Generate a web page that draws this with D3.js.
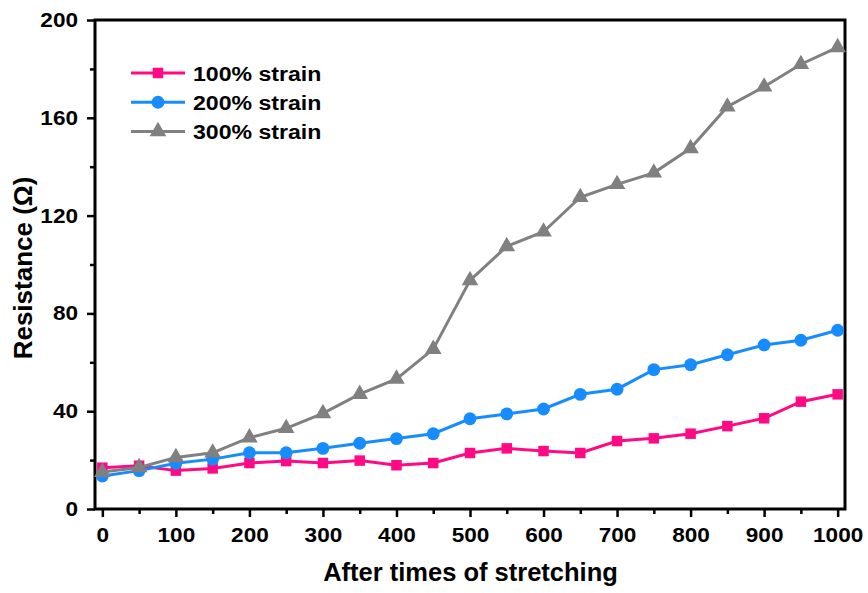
<!DOCTYPE html>
<html>
<head>
<meta charset="utf-8">
<script src="https://cdn.jsdelivr.net/npm/d3@7"></script>
<style>
  body { margin: 0; background: #fff; }
  svg { display: block; font-family: "Liberation Sans", Arial, sans-serif; font-weight: bold; }
</style>
</head>
<body>
<svg id="chart" width="868" height="593"></svg>
<script>
// stretching cycles
const cycles = [0, 50, 100, 150, 200, 250, 300, 350, 400, 450, 500,
                550, 600, 650, 700, 750, 800, 850, 900, 950, 1000];

// resistance values (ohm)
const strain100 = [16.9, 17.7, 15.7, 16.6, 18.8, 19.6, 18.8, 19.8, 17.9, 18.8, 22.9,
                   24.8, 23.7, 22.9, 27.8, 28.9, 30.8, 33.9, 37.1, 43.9, 46.9];
const strain200 = [13.5, 15.7, 18.7, 20.4, 23.0, 23.0, 24.8, 26.9, 28.8, 30.8, 36.9,
                   38.9, 40.9, 46.9, 49.0, 57.0, 59.0, 63.1, 67.1, 69.0, 73.1];
const strain300 = [15.1, 17.0, 21.1, 23.0, 29.2, 33.0, 39.1, 47.0, 53.2, 65.4, 93.5,
                   107.4, 113.4, 127.5, 132.8, 137.5, 147.5, 164.5, 172.7, 181.9, 188.8];

const xTicks = [0, 100, 200, 300, 400, 500, 600, 700, 800, 900, 1000];
const yTicks = [0, 40, 80, 120, 160, 200];

const seriesNames = ["100% strain", "200% strain", "300% strain"];
const seriesColors = ["#ff0a84", "#178cff", "#808080"];
const seriesShapes = [d3.symbolSquare, d3.symbolCircle, d3.symbolTriangle];
const seriesSizes = [110, 130, 120];

const series = [strain100, strain200, strain300].map((vals, i) => ({
  name: seriesNames[i], color: seriesColors[i],
  shape: seriesShapes[i], size: seriesSizes[i],
  points: vals.map((v, j) => ({ x: cycles[j], y: v }))
}));

const svg = d3.select("#chart");
const plotL = 95, plotR = 845, plotT = 20, plotB = 509;
const stretch = 1.13; // the original lettering is a bit wide

const x = d3.scaleLinear().domain([-10, 1010]).range([plotL, plotR]);
const y = d3.scaleLinear().domain([0, 200]).range([plotB, plotT]);

// minor ticks first, so majors sit on top
const xMinor = d3.range(50, 1000, 100);
const yMinor = d3.range(20, 200, 40);

const gx = svg.append("g").attr("transform", `translate(0,${plotB})`);
gx.call(d3.axisBottom(x).tickValues(xMinor).tickSize(5).tickFormat(""));
gx.append("g").call(d3.axisBottom(x).tickValues(xTicks).tickSize(8).tickPadding(11).tickFormat(d3.format("d")));

const gy = svg.append("g").attr("transform", `translate(${plotL},0)`);
gy.call(d3.axisLeft(y).tickValues(yMinor).tickSize(5).tickFormat(""));
gy.append("g").call(d3.axisLeft(y).tickValues(yTicks).tickSize(8).tickPadding(7).tickFormat(d3.format("d")));

svg.selectAll(".domain").remove();
svg.selectAll(".tick line").attr("stroke", "#000").attr("stroke-width", 2.5);
svg.selectAll(".tick text").attr("fill", "#000").style("font-size", "20px")
  .style("font-family", "'Liberation Sans', Arial, sans-serif").style("font-weight", "bold")
  .attr("transform", `scale(${stretch},1)`);

// frame
svg.append("rect")
  .attr("x", plotL).attr("y", plotT)
  .attr("width", plotR - plotL).attr("height", plotB - plotT)
  .attr("fill", "none").attr("stroke", "#000").attr("stroke-width", 3);

// data
const line = d3.line().x(d => x(d.x)).y(d => y(d.y));

series.forEach(s => {
  svg.append("path").datum(s.points)
    .attr("d", line)
    .attr("fill", "none").attr("stroke", s.color).attr("stroke-width", 3);
  svg.append("g").selectAll("path").data(s.points).join("path")
    .attr("transform", d => `translate(${x(d.x)},${y(d.y)})`)
    .attr("d", d3.symbol().type(s.shape).size(s.size))
    .attr("fill", s.color);
});

// legend
const legend = svg.append("g").attr("transform", "translate(131,73)");
series.forEach((s, i) => {
  const row = legend.append("g").attr("transform", `translate(0,${i * 29.2})`);
  row.append("line").attr("x1", 0).attr("x2", 54).attr("y1", 0).attr("y2", 0)
    .attr("stroke", s.color).attr("stroke-width", 3);
  row.append("path").attr("transform", "translate(27,0)")
    .attr("d", d3.symbol().type(s.shape).size(s.size)).attr("fill", s.color);
  row.append("text").attr("transform", "translate(62,0) scale(1.1,1)").attr("dy", "0.36em")
    .style("font-size", "21px").attr("fill", "#000").text(s.name);
});

// axis titles
svg.append("text")
  .attr("x", (plotL + plotR) / 2 + 0.5).attr("y", 581)
  .attr("text-anchor", "middle").style("font-size", "25.5px")
  .text("After times of stretching");

svg.append("text")
  .attr("transform", "translate(32,268) rotate(-90)")
  .attr("text-anchor", "middle").style("font-size", "26px")
  .text("Resistance (Ω)");
</script>
</body>
</html>
